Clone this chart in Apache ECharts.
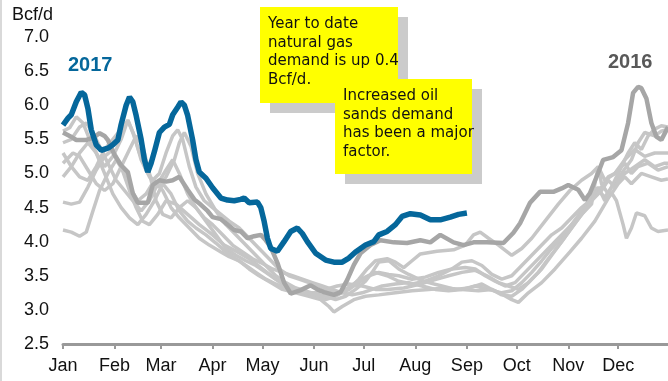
<!DOCTYPE html>
<html>
<head>
<meta charset="utf-8">
<script src="https://cdn.jsdelivr.net/npm/echarts@6/dist/echarts.min.js"></script>
<style>
  html, body { margin: 0; padding: 0; background: #fff; }
  #chart { width: 668px; height: 381px; }
</style>
</head>
<body>
<div id="chart"></div>
<script>
// Month ticks on a day-of-year axis
const monthNames = ['Jan', 'Feb', 'Mar', 'Apr', 'May', 'Jun', 'Jul', 'Aug', 'Sep', 'Oct', 'Nov', 'Dec'];
const monthStartDays = [0, 31, 59, 90, 120, 151, 181, 212, 243, 273, 304, 334];

// Daily natural gas demand, Bcf/d, as [day of year, value]
const demand2017 = [
  [0,5.71],[3,5.81],[5,5.86],[8,6.05],[11,6.19],[13,6.15],[15,5.95],[17,5.64],[20,5.42],[23,5.34],
  [27,5.37],[30,5.42],[33,5.49],[35,5.72],[38,6.0],[40,6.12],[42,6.05],[44,5.85],[47,5.5],[49,5.2],
  [51,5.02],[53,5.15],[55,5.32],[58,5.6],[61,5.68],[64,5.72],[66,5.86],[69,5.97],[71,6.05],[73,6.0],
  [75,5.85],[78,5.49],[80,5.2],[82,5.02],[86,4.93],[90,4.79],[95,4.64],[99,4.61],[103,4.60],[107,4.62],
  [109,4.64],[112,4.57],[117,4.58],[119,4.50],[121,4.30],[123,4.05],[125,3.90],[129,3.86],[133,4.00],
  [137,4.15],[141,4.20],[144,4.12],[147,4.00],[152,3.83],[158,3.73],[163,3.70],[168,3.70],[172,3.76],
  [176,3.85],[182,3.95],[187,4.00],[190,4.10],[195,4.15],[200,4.25],[204,4.37],[209,4.41],[215,4.39],
  [221,4.32],[227,4.32],[233,4.36],[238,4.40],[243,4.42]
];

const demand2016 = [
  [0,5.60],[4,5.55],[8,5.49],[14,5.49],[18,5.52],[22,5.59],[25,5.55],[27,5.49],[31,5.27],[35,5.12],
  [39,5.02],[42,4.71],[45,4.57],[51,4.57],[54,4.83],[58,4.90],[62,4.88],[66,4.90],[70,4.95],[75,4.76],
  [79,4.62],[83,4.54],[87,4.45],[90,4.36],[95,4.33],[99,4.25],[103,4.17],[107,4.15],[111,4.05],[115,4.08],
  [119,4.10],[122,4.02],[125,3.92],[129,3.69],[133,3.40],[137,3.24],[143,3.29],[149,3.36],[153,3.30],
  [157,3.26],[163,3.22],[167,3.26],[171,3.44],[175,3.66],[179,3.83],[185,3.95],[191,4.02],[199,3.99],
  [207,3.98],[215,4.02],[221,3.99],[227,4.10],[235,3.99],[241,3.95],[247,3.99],[255,3.99],[265,3.98],
  [271,4.13],[275,4.27],[281,4.57],[287,4.73],[295,4.73],[300,4.78],[304,4.83],[310,4.76],[314,4.61],
  [317,4.71],[322,5.01],[325,5.20],[331,5.24],[336,5.34],[340,5.74],[343,6.18],[346,6.27],[348,6.25],
  [351,6.10],[354,5.74],[357,5.54],[360,5.49],[364,5.68]
];

// Earlier years (unlabelled, light grey)
const priorA = [
  [0,4.17],[5,4.14],[10,4.08],[14,4.14],[18,4.45],[22,4.75],[27,5.0],[32,5.2],[36,5.05],[40,4.8],
  [45,4.6],[50,4.7],[55,4.9],[60,4.75],[65,4.5],[70,4.35],[76,4.2],[82,4.05],[88,3.95],[95,3.85],
  [100,3.78],[106,3.72],[112,3.6],[118,3.5],[125,3.4],[132,3.3],[140,3.25],[148,3.2],[155,3.15],
  [160,3.05],[163,2.97],[168,3.05],[175,3.15],[182,3.2],[190,3.22],[200,3.25],[210,3.28],[220,3.3],
  [230,3.32],[240,3.3],[250,3.28],[258,3.3],[265,3.22],[270,3.15],[274,3.11],[280,3.25],[288,3.4],
  [296,3.6],[305,3.85],[312,4.05],[320,4.3],[326,4.55],[330,4.72],[333,4.6],[337,4.25],[339,4.05],
  [342,4.2],[345,4.42],[350,4.38],[354,4.2],[358,4.15],[364,4.17]
];
const priorB = [
  [0,4.58],[5,4.55],[10,4.58],[15,4.8],[20,5.05],[25,5.25],[30,5.35],[35,5.1],[40,4.75],[44,4.5],
  [48,4.3],[52,4.25],[57,4.4],[62,4.6],[68,4.55],[75,4.4],[82,4.25],[90,4.1],[97,3.95],[105,3.85],
  [112,3.75],[120,3.6],[128,3.45],[135,3.35],[142,3.3],[150,3.25],[158,3.2],[165,3.22],[172,3.3],
  [178,3.45],[183,3.6],[188,3.72],[195,3.75],[200,3.7],[205,3.62],[210,3.72],[215,3.82],[225,3.86],
  [235,3.88],[242,3.95],[247,4.1],[251,4.14],[256,4.05],[262,3.95],[270,3.8],[276,3.9],[282,4.05],
  [290,4.3],[298,4.55],[305,4.75],[312,4.9],[318,5.0],[322,5.1],[326,4.9],[332,5.0],[338,5.2],
  [344,5.35],[350,5.25],[356,5.3],[364,5.3]
];
const priorC = [
  [0,5.15],[6,5.3],[10,5.25],[15,5.05],[20,4.85],[25,4.75],[30,4.85],[35,5.1],[40,5.35],[44,5.55],
  [48,5.4],[52,5.0],[56,4.6],[60,4.4],[65,4.35],[70,4.5],[75,4.6],[80,4.5],[86,4.3],[92,4.1],
  [98,3.9],[104,3.8],[110,3.72],[116,3.65],[122,3.55],[128,3.45],[134,3.35],[140,3.3],[146,3.25],
  [152,3.25],[158,3.3],[165,3.35],[172,3.38],[180,3.35],[188,3.3],[195,3.3],[205,3.32],[215,3.38],
  [225,3.45],[232,3.5],[240,3.55],[248,3.58],[255,3.5],[262,3.4],[268,3.35],[274,3.3],[280,3.4],
  [286,3.55],[292,3.75],[300,4.0],[306,4.2],[312,4.4],[318,4.6],[324,4.8],[328,4.95],[332,5.0],
  [338,5.15],[342,5.0],[346,5.1],[352,5.15],[358,5.05],[364,5.1]
];
const priorD = [
  [0,5.3],[5,5.1],[10,4.95],[15,4.9],[20,5.1],[25,5.35],[30,5.5],[35,5.65],[39,5.78],[43,5.55],
  [47,5.2],[52,4.95],[57,4.8],[62,4.95],[67,5.2],[70,5.45],[73,5.6],[77,5.4],[81,5.0],[86,4.7],
  [92,4.45],[98,4.25],[104,4.1],[110,3.95],[116,3.8],[122,3.65],[128,3.5],[134,3.4],[140,3.32],
  [146,3.28],[152,3.2],[158,3.15],[164,3.2],[170,3.3],[176,3.4],[182,3.48],[188,3.55],[195,3.5],
  [202,3.42],[210,3.38],[218,3.42],[226,3.5],[234,3.6],[240,3.7],[246,3.72],[252,3.65],[258,3.52],
  [264,3.45],[270,3.5],[276,3.65],[282,3.8],[288,3.95],[294,4.1],[300,4.2],[306,4.35],[312,4.5],
  [318,4.62],[322,4.75],[326,4.65],[330,4.8],[336,5.0],[342,5.2],[346,5.45],[350,5.6],[356,5.55],
  [360,5.62],[364,5.65]
];
const priorE = [
  [0,5.45],[5,5.5],[10,5.68],[14,5.74],[18,5.6],[22,5.4],[27,5.15],[32,4.9],[37,4.75],[42,4.6],
  [47,4.45],[52,4.6],[57,4.85],[62,5.05],[66,5.2],[70,5.0],[75,4.7],[80,4.5],[85,4.35],[90,4.25],
  [96,4.1],[102,3.95],[108,3.85],[114,3.75],[120,3.68],[126,3.6],[132,3.55],[138,3.5],[144,3.45],
  [150,3.4],[156,3.35],[162,3.3],[168,3.25],[174,3.22],[180,3.25],[186,3.3],[192,3.35],[200,3.38],
  [208,3.4],[216,3.35],[224,3.3],[232,3.28],[240,3.3],[248,3.35],[256,3.3],[264,3.25],[270,3.28],
  [276,3.4],[282,3.55],[288,3.72],[294,3.9],[300,4.05],[306,4.25],[312,4.45],[318,4.65],[322,4.8],
  [326,4.6],[330,4.7],[334,4.85],[338,4.95],[342,4.85],[348,5.0],[354,4.95],[360,4.9],[364,4.92]
];
const priorF = [
  [0,5.62],[4,5.67],[8,5.83],[12,5.74],[16,5.5],[20,5.3],[25,5.1],[30,5.25],[35,5.5],[39,5.78],
  [42,5.6],[46,5.3],[50,5.05],[54,4.9],[58,5.0],[62,5.3],[66,5.55],[69,5.64],[72,5.5],[76,5.1],
  [80,4.8],[85,4.6],[90,4.5],[95,4.4],[100,4.3],[106,4.2],[112,4.05],[118,3.9],[124,3.75],[130,3.6],
  [136,3.5],[142,3.45],[148,3.4],[154,3.35],[160,3.28],[166,3.25],[172,3.3],[178,3.4],[184,3.5],
  [190,3.55],[196,3.52],[202,3.5],[210,3.45],[218,3.48],[226,3.55],[234,3.6],[242,3.62],[248,3.6],
  [254,3.5],[260,3.42],[266,3.35],[272,3.4],[278,3.55],[284,3.7],[290,3.85],[296,4.0],[302,4.15],
  [308,4.3],[314,4.45],[318,4.55],[320,4.85],[322,5.1],[324,4.85],[328,4.7],[332,4.9],[336,5.1],
  [340,5.3],[344,5.45],[348,5.35],[352,5.55],[356,5.65],[360,5.7],[364,5.68]
];
const priorG = [
  [0,4.95],[5,5.1],[10,5.3],[15,5.45],[20,5.3],[25,5.0],[30,4.7],[35,4.5],[40,4.35],[45,4.25],
  [50,4.4],[55,4.6],[60,4.85],[65,4.7],[70,4.45],[75,4.3],[80,4.2],[86,4.1],[92,3.98],[98,3.85],
  [104,3.75],[110,3.65],[116,3.55],[122,3.45],[128,3.38],[134,3.32],[140,3.28],[146,3.25],[152,3.22],
  [158,3.2],[164,3.15],[170,3.2],[176,3.3],[182,3.42],[186,3.55],[190,3.7],[196,3.72],[202,3.6],
  [208,3.52],[214,3.45],[220,3.4],[228,3.35],[236,3.3],[244,3.32],[252,3.38],[258,3.3],[264,3.22],
  [270,3.2],[276,3.3],[282,3.45],[288,3.6],[294,3.8],[300,4.0],[306,4.2],[312,4.4],[318,4.6],
  [324,4.75],[328,4.9],[332,4.8],[338,5.0],[344,5.1],[350,5.2],[356,5.1],[362,5.15],[364,5.15]
];
const priorYears = [priorA, priorB, priorC, priorD, priorE, priorF, priorG];

const yTickMin = 2.5, yTickMax = 7.0, yTickStep = 0.5;

const note1 = ['Year to date', 'natural gas', 'demand is up 0.4', 'Bcf/d.'];
const note2 = ['Increased oil', 'sands demand', 'has been a major', 'factor.'];

const labelFont = '"Liberation Sans", Arial, sans-serif';
const noteFont = '"Comic Sans MS", "DejaVu Sans", sans-serif';

const chart = echarts.init(document.getElementById('chart'), null, { renderer: 'canvas' });

const lineSeries = priorYears.map((d, i) => ({
  name: 'prior' + i,
  type: 'line',
  data: d,
  showSymbol: false,
  symbol: 'none',
  lineStyle: { color: '#c6c6c6', width: 3.5 },
  z: 2,
  silent: true
}));
lineSeries.push({
  name: '2016', type: 'line', data: demand2016, showSymbol: false, symbol: 'none',
  lineStyle: { color: '#a6a6a6', width: 4.5 }, z: 3, silent: true
});
lineSeries.push({
  name: '2017', type: 'line', data: demand2017, showSymbol: false, symbol: 'none',
  lineStyle: { color: '#05679b', width: 5.5 }, z: 4, silent: true
});

// Yellow call-out with a flat drop shadow
function noteBox(x, y, w, h, lines) {
  return [
    { type: 'rect', shape: { x: x + 10, y: y + 10, width: w, height: h }, style: { fill: '#cbcbcb' }, z: 10 },
    { type: 'rect', shape: { x: x, y: y, width: w, height: h }, style: { fill: '#ffff00' }, z: 10 },
    { type: 'text', x: x + 8, y: y + 8, z: 11,
      style: { text: lines.join('\n'), font: '15px ' + noteFont, fill: '#111', lineHeight: 18.6 } }
  ];
}

chart.setOption({
  animation: false,
  backgroundColor: '#fff',
  grid: { left: 63, right: 0, top: 37, bottom: 37 },
  xAxis: {
    type: 'value',
    min: 0,
    max: 364,
    axisLine: { lineStyle: { color: '#999', width: 3 } },
    axisTick: { customValues: monthStartDays, length: 5, lineStyle: { color: '#999', width: 2 } },
    axisLabel: {
      customValues: monthStartDays,
      formatter: v => monthNames[monthStartDays.indexOf(v)] || '',
      fontSize: 18, fontFamily: labelFont, color: '#111', margin: 13
    },
    splitLine: { show: false }
  },
  yAxis: {
    type: 'value',
    min: yTickMin,
    max: yTickMax,
    interval: yTickStep,
    axisLine: { show: false },
    axisTick: { show: false },
    splitLine: { show: false },
    axisLabel: { formatter: v => v.toFixed(1), fontSize: 18, fontFamily: labelFont, color: '#111', margin: 14 }
  },
  series: lineSeries,
  graphic: [
    { type: 'rect', shape: { x: 0, y: 0, width: 2, height: 381 }, style: { fill: '#d9d9d9' } },
    { type: 'text', x: 12, y: 6, style: { text: 'Bcf/d', font: '18px ' + labelFont, fill: '#111' } },
    { type: 'text', x: 68, y: 55, style: { text: '2017', font: 'bold 20px ' + labelFont, fill: '#05679b' } },
    { type: 'text', x: 608, y: 52, style: { text: '2016', font: 'bold 20px ' + labelFont, fill: '#595959' } },
    ...noteBox(260, 7, 138, 96, note1),
    ...noteBox(335, 79, 137, 95, note2)
  ]
});
</script>
</body>
</html>
